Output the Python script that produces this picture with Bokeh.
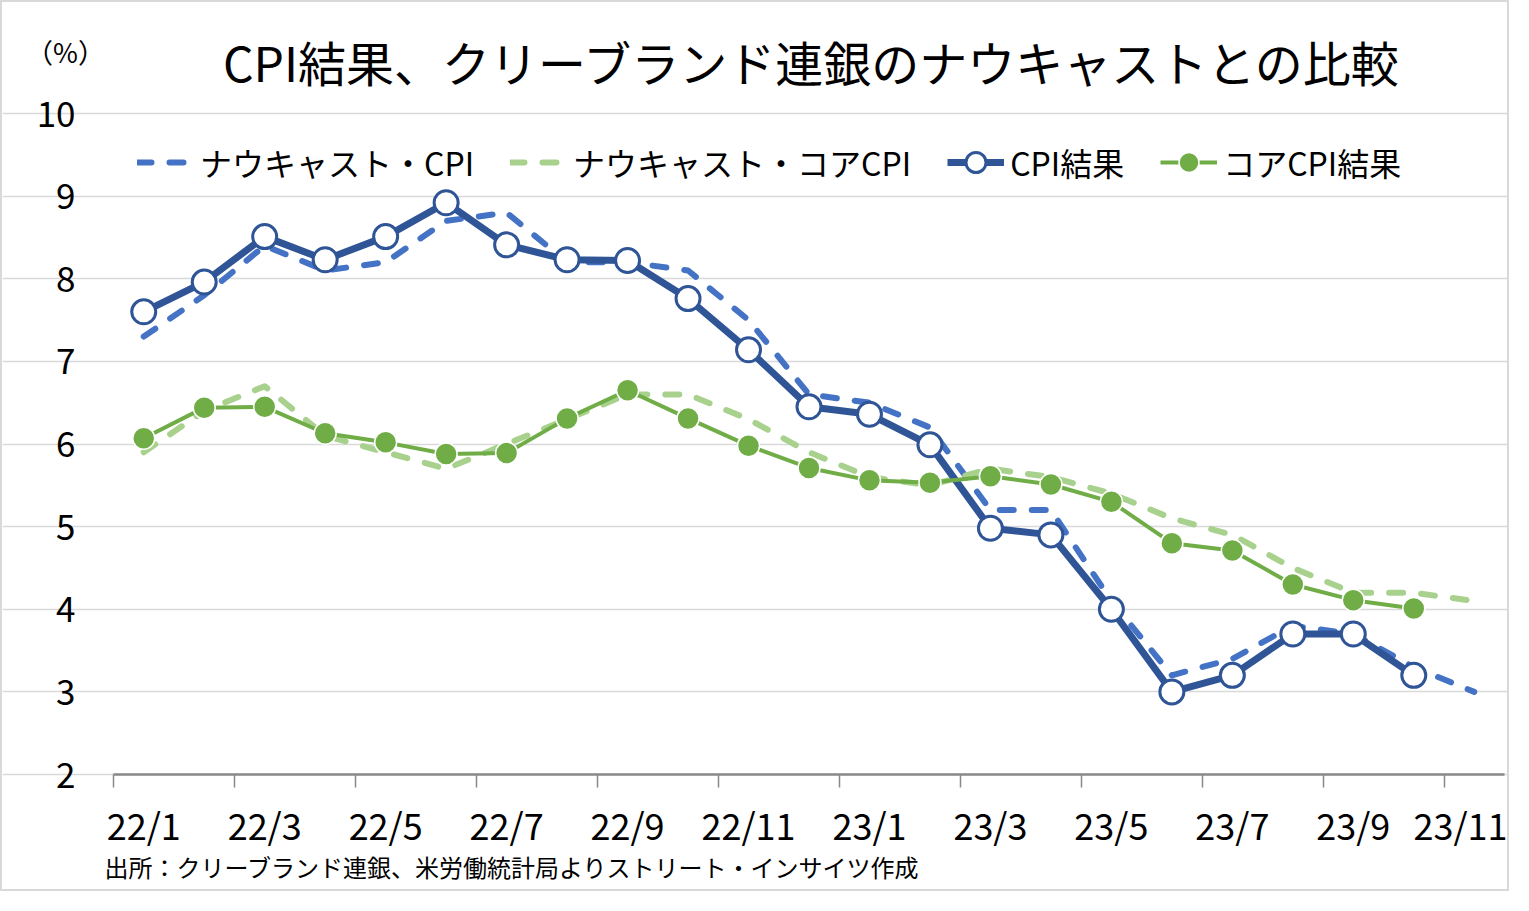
from bokeh.plotting import figure
from bokeh.models import ColumnDataSource, Range1d, FixedTicker, Label, Legend, LegendItem
from bokeh.embed import file_html
from bokeh.resources import INLINE

# ---------------- data ----------------
months = ["22/1", "22/2", "22/3", "22/4", "22/5", "22/6", "22/7", "22/8", "22/9", "22/10",
          "22/11", "22/12", "23/1", "23/2", "23/3", "23/4", "23/5", "23/6", "23/7", "23/8",
          "23/9", "23/10", "23/11"]

nowcast_cpi = [7.3, 7.8, 8.4, 8.1, 8.2, 8.7, 8.8, 8.2, 8.2, 8.1, 7.5, 6.6, 6.5, 6.2,
               5.2, 5.2, 4.1, 3.2, 3.4, 3.8, 3.7, 3.3, 3.0]
nowcast_core = [5.9, 6.4, 6.7, 6.1, 5.9, 5.7, 6.0, 6.3, 6.6, 6.6, 6.3, 5.9, 5.6, 5.5,
                5.7, 5.6, 5.4, 5.1, 4.9, 4.5, 4.2, 4.2, 4.1]
cpi_actual = [7.6, 7.96, 8.51, 8.23, 8.51, 8.92, 8.41, 8.23, 8.22, 7.76, 7.14, 6.45,
              6.36, 5.99, 4.98, 4.9, 4.0, 3.0, 3.2, 3.7, 3.7, 3.2]
core_actual = [6.07, 6.44, 6.45, 6.13, 6.02, 5.88, 5.89, 6.31, 6.65, 6.31, 5.98, 5.71,
               5.56, 5.53, 5.61, 5.51, 5.3, 4.8, 4.71, 4.3, 4.11, 4.01]

series_names = ["ナウキャスト・CPI", "ナウキャスト・コアCPI", "CPI結果", "コアCPI結果"]
y_ticks = [2, 3, 4, 5, 6, 7, 8, 9, 10]
x_tick_idx = list(range(0, len(months), 2))
x_tick_labels = [months[i] for i in x_tick_idx]

title_text = "CPI結果、クリーブランド連銀のナウキャストとの比較"
unit_text = "（%）"
source_text = "出所：クリーブランド連銀、米労働統計局よりストリート・インサイツ作成"

FONT = "Noto Sans CJK JP"
C_NC = "#4472C4"
C_NCORE = "#A9D18E"
C_CPI = "#2F5597"
C_CORE = "#70AD47"

# ---------------- geometry (canvas pixels) ----------------
W, H = 1509, 891                      # canvas size (plus 2px css border each side)
PL, PR, PT, PB = 111, 1502, 111, 772  # plot area: left/right/top/bottom in canvas px
X0, X1 = -0.5, len(months) - 0.5      # category span
Y0, Y1 = 2, 10                        # value span
sx = (PR - PL) / (X1 - X0)
sy = (PB - PT) / (Y1 - Y0)
x_range = Range1d(X0 - PL / sx, X1 + (W - PR) / sx)
y_range = Range1d(Y0 - (H - PB) / sy, Y1 + PT / sy)

# ---------------- figure ----------------
p = figure(width=W, height=H, output_backend="svg", toolbar_location=None, title=None,
           x_range=x_range, y_range=y_range,
           min_border_left=0, min_border_right=0, min_border_top=0, min_border_bottom=0)
p.outline_line_color = None
p.background_fill_color = "white"
p.border_fill_color = "white"
p.styles = {"border": "2px solid #d9d9d9"}

# x axis: labels at month centres, tick marks at category boundaries
p.xaxis.fixed_location = Y0
p.xaxis.bounds = (X0, X1)
p.xaxis.ticker = FixedTicker(ticks=x_tick_idx, minor_ticks=[i - 0.5 for i in x_tick_idx])
p.xaxis.major_label_overrides = {i: lab for i, lab in zip(x_tick_idx, x_tick_labels)}
p.xaxis.major_tick_out = 0
p.xaxis.major_tick_in = 0
p.xaxis.minor_tick_out = 13
p.xaxis.minor_tick_in = 0
p.xaxis.minor_tick_line_color = "#898989"
p.xaxis.minor_tick_line_width = 1.5
p.xaxis.axis_line_color = "#898989"
p.xaxis.axis_line_width = 2.5
p.xaxis.major_label_text_font = FONT
p.xaxis.major_label_text_font_size = "36px"
p.xaxis.major_label_text_color = "black"
p.xaxis.major_label_standoff = 10

p.yaxis.fixed_location = X0
p.yaxis.bounds = (Y0, Y1)
p.yaxis.ticker = FixedTicker(ticks=y_ticks)
p.yaxis.axis_line_color = None
p.yaxis.major_tick_line_color = None
p.yaxis.minor_tick_line_color = None
p.yaxis.major_label_text_font = FONT
p.yaxis.major_label_text_font_size = "35px"
p.yaxis.major_label_text_color = "black"
p.yaxis.major_label_standoff = 32

p.xgrid.visible = False
p.ygrid.grid_line_color = "#d9d9d9"
p.ygrid.grid_line_width = 1.5
p.ygrid.bounds = (X0, X1)

# ---------------- series ----------------
src_nc = ColumnDataSource(dict(x=list(range(len(nowcast_cpi))), y=nowcast_cpi))
src_ncore = ColumnDataSource(dict(x=list(range(len(nowcast_core))), y=nowcast_core))
src_cpi = ColumnDataSource(dict(x=list(range(len(cpi_actual))), y=cpi_actual))
src_core = ColumnDataSource(dict(x=list(range(len(core_actual))), y=core_actual))

r_nc = p.line("x", "y", source=src_nc, line_color=C_NC, line_width=6,
              line_dash="14 18", line_cap="round", line_join="round")
r_ncore = p.line("x", "y", source=src_ncore, line_color=C_NCORE, line_width=6,
                 line_dash="14 18", line_cap="round", line_join="round")
r_cpi_l = p.line("x", "y", source=src_cpi, line_color=C_CPI, line_width=7, line_join="round")
r_cpi_m = p.scatter("x", "y", source=src_cpi, size=24, fill_color="white",
                    line_color=C_CPI, line_width=3)
r_core_l = p.line("x", "y", source=src_core, line_color=C_CORE, line_width=4, line_join="round")
r_core_m = p.scatter("x", "y", source=src_core, size=22, fill_color=C_CORE,
                     line_color="white", line_width=1.5)

legend = Legend(items=[
    LegendItem(label=series_names[0], renderers=[r_nc]),
    LegendItem(label=series_names[1], renderers=[r_ncore]),
    LegendItem(label=series_names[2], renderers=[r_cpi_l, r_cpi_m]),
    LegendItem(label=series_names[3], renderers=[r_core_l, r_core_m]),
], location="top_left", orientation="horizontal")
legend.label_text_font = FONT
legend.label_text_font_size = "32px"
legend.label_text_color = "black"
legend.glyph_width = 57
legend.glyph_height = 50
legend.label_height = 50
legend.label_standoff = 6
legend.spacing = 36
legend.margin = 135
legend.padding = 25
legend.background_fill_alpha = 0
legend.border_line_color = None
p.add_layout(legend)

# ---------------- texts (screen px from the canvas bottom-left) ----------------
p.add_layout(Label(x=810, y=H - 58, x_units="screen", y_units="screen", text=title_text,
                   text_font=FONT, text_font_size="48px", text_color="black",
                   text_align="center", text_baseline="middle"))
p.add_layout(Label(x=63, y=H - 49, x_units="screen", y_units="screen", text=unit_text,
                   text_font=FONT, text_font_size="27px", text_color="black",
                   text_align="center", text_baseline="middle"))
p.add_layout(Label(x=102, y=H - 864, x_units="screen", y_units="screen", text=source_text,
                   text_font=FONT, text_font_size="24px", text_color="black",
                   text_align="left", text_baseline="middle"))

open("out.html", "w").write(file_html(p, INLINE))
